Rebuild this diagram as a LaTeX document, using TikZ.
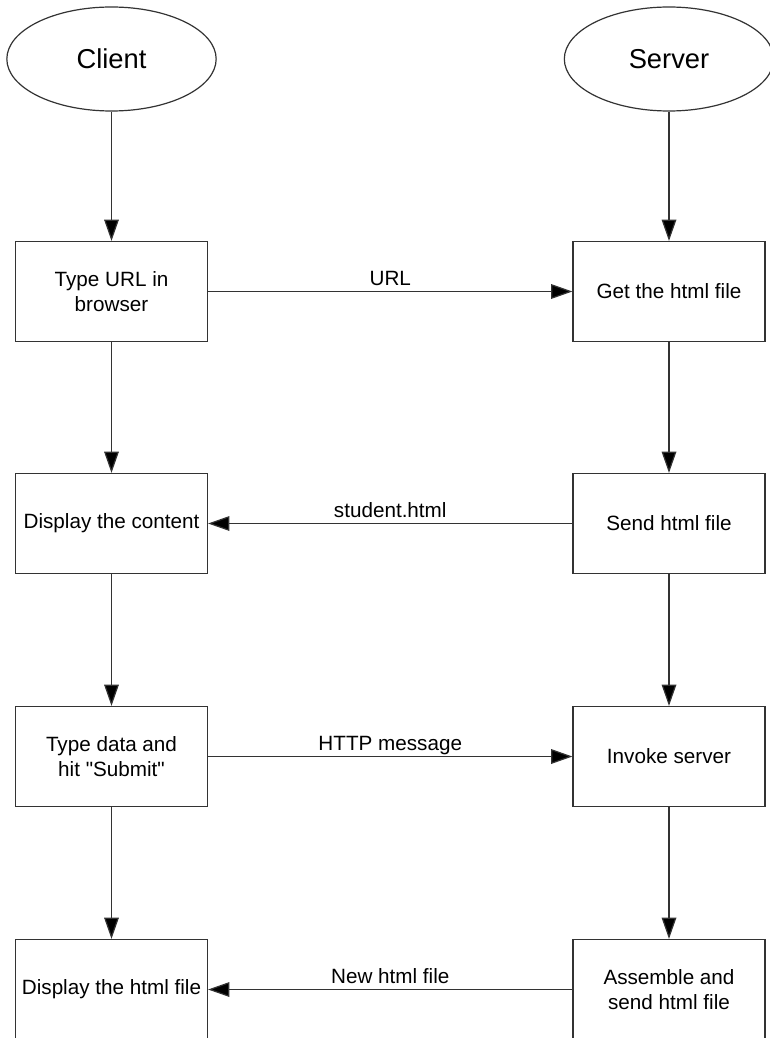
\documentclass[tikz,border=0pt]{standalone}
\usepackage{fontspec}
\setmainfont{Liberation Sans}
\usetikzlibrary{arrows.meta, positioning, shapes.geometric}
\definecolor{cline}{HTML}{333333}
\tikzset{
  every picture/.style={line width=0.9pt},
  actor/.style={draw=cline, ellipse, minimum width=157pt, minimum height=78pt, font=\fontsize{20.5}{24}\selectfont},
  stepbox/.style={draw=cline, rectangle, minimum width=144pt, minimum height=75pt, align=center, font=\fontsize{15.5}{19}\selectfont},
  arrow/.style={-{Triangle[length=16pt, width=11pt, fill=black]}, draw=cline},
  msg/.style={font=\fontsize{15.5}{18}\selectfont, anchor=base, yshift=4.5pt, inner sep=0pt},
}

\begin{document}
\begin{tikzpicture}[x=0.75pt, y=-0.75pt]
  \useasboundingbox (0,0) rectangle (770,1038);
  % the two sides
  \node[actor] (client) at (111.5,59) {Client};
  \node[actor] (server) at (669,59) {Server};
  % client steps
  \node[stepbox] (c1) at (111.5,291.5) {Type URL in\\browser};
  \node[stepbox] (c2) at (111.5,523.5) {Display the content};
  \node[stepbox] (c3) at (111.5,756.5) {Type data and\\hit \textquotedbl Submit\textquotedbl};
  \node[stepbox] (c4) at (111.5,989.5) {Display the html file};
  % server steps
  \node[stepbox] (s1) at (669,291.5) {Get the html file};
  \node[stepbox] (s2) at (669,523.5) {Send html file};
  \node[stepbox] (s3) at (669,756.5) {Invoke server};
  \node[stepbox] (s4) at (669,989.5) {Assemble and\\send html file};
  % down the columns
  \draw[arrow] (client) -- (c1);
  \draw[arrow] (c1) -- (c2);
  \draw[arrow] (c2) -- (c3);
  \draw[arrow] (c3) -- (c4);
  \draw[arrow] (server) -- (s1);
  \draw[arrow] (s1) -- (s2);
  \draw[arrow] (s2) -- (s3);
  \draw[arrow] (s3) -- (s4);
  % messages
  \draw[arrow] (c1) -- node[msg] {URL} (s1);
  \draw[arrow] (s2) -- node[msg] {student.html} (c2);
  \draw[arrow] (c3) -- node[msg] {HTTP message} (s3);
  \draw[arrow] (s4) -- node[msg] {New html file} (c4);
\end{tikzpicture}
\end{document}
